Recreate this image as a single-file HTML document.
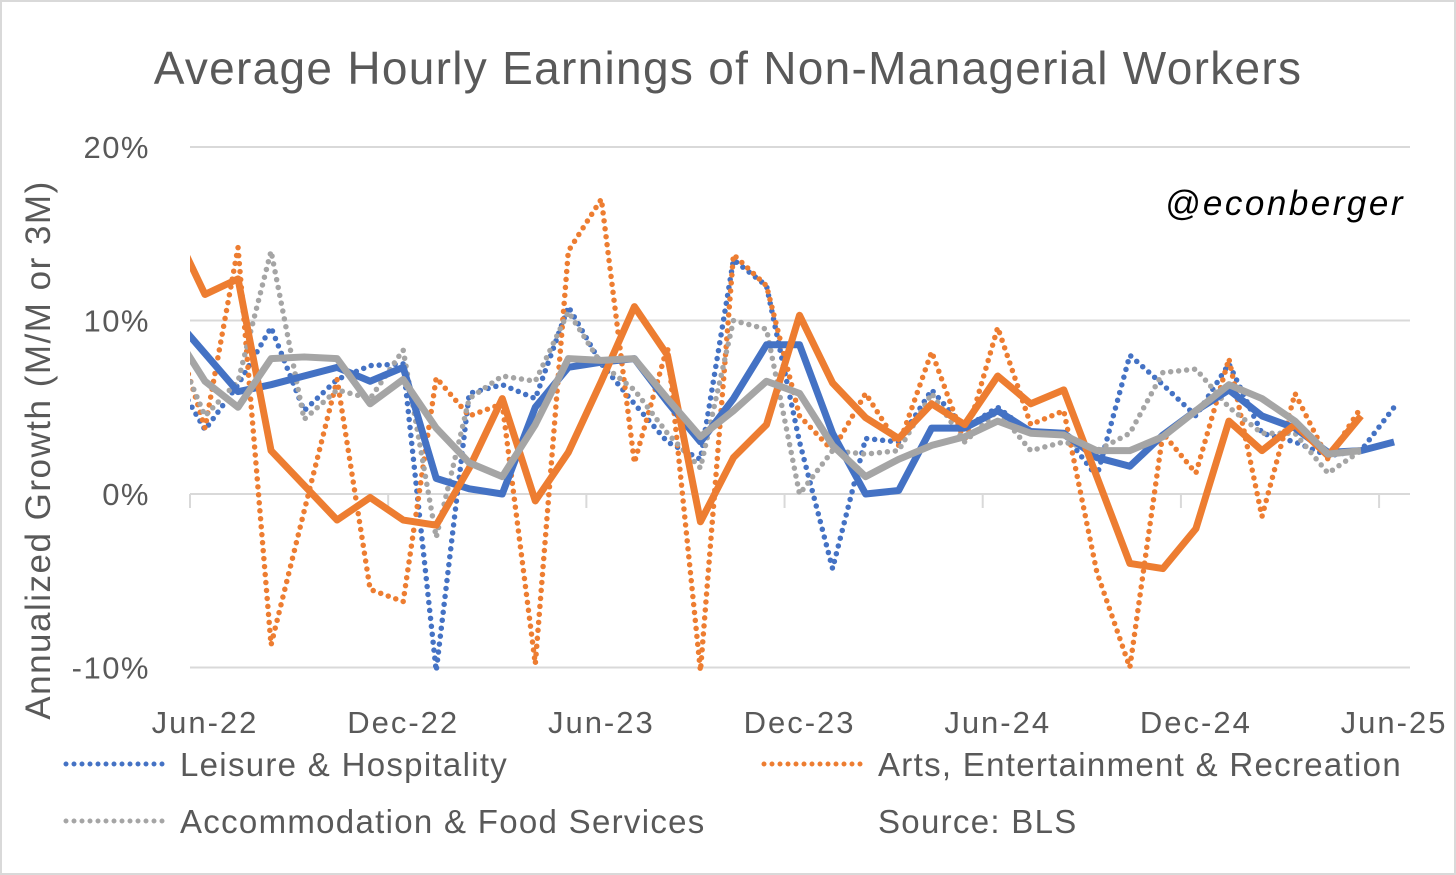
<!DOCTYPE html>
<html><head><meta charset="utf-8">
<style>
body{margin:0;background:#fff;}
#wrap{position:relative;width:1456px;height:875px;overflow:hidden;background:#fff;}
svg{position:absolute;left:0;top:0;}
text{font-family:"Liberation Sans","DejaVu Sans",sans-serif;fill:#595959;}
</style></head>
<body>
<div id="wrap">
<svg id="chart" width="1456" height="875">
<rect x="1" y="1" width="1454" height="873" fill="#fff" stroke="#d9d9d9" stroke-width="2"/>
<text x="728" y="84" text-anchor="middle" font-size="46" letter-spacing="1.3">Average Hourly Earnings of Non-Managerial Workers</text>
<text x="1405" y="215" text-anchor="end" font-size="35" font-style="italic" letter-spacing="2.5" style="fill:#000">@econberger</text>
<text transform="translate(50,450) rotate(-90)" text-anchor="middle" font-size="35" letter-spacing="1.5">Annualized Growth (M/M or 3M)</text>
<g id="grid"></g>
<g id="series"></g>
<g id="legend">
<line x1="66" y1="764" x2="168" y2="764" stroke="#4472c4" stroke-width="5" stroke-dasharray="0 8" stroke-linecap="round"/>
<text x="180" y="776" font-size="33" letter-spacing="1.3">Leisure &amp; Hospitality</text>
<line x1="764" y1="764" x2="866" y2="764" stroke="#ed7d31" stroke-width="5" stroke-dasharray="0 8" stroke-linecap="round"/>
<text x="878" y="776" font-size="33" letter-spacing="1.3">Arts, Entertainment &amp; Recreation</text>
<line x1="66" y1="821" x2="168" y2="821" stroke="#a5a5a5" stroke-width="5" stroke-dasharray="0 8" stroke-linecap="round"/>
<text x="180" y="833" font-size="33" letter-spacing="1.3">Accommodation &amp; Food Services</text>
<text x="878" y="833" font-size="33" letter-spacing="1.3">Source: BLS</text>
</g>
</svg>
</div>
<script>
// data start at May-22 (index -1, clipped), monthly
const yTicks = [20, 10, 0, -10];
const yTickLabels = ["20%", "10%", "0%", "-10%"];
const xTickLabels = ["Jun-22", "Dec-22", "Jun-23", "Dec-23", "Jun-24", "Dec-24", "Jun-25"];
const xTickMonths = [0, 6, 12, 18, 24, 30, 36];
const leisureM = [7,3.7,6.3,9.6,4.8,6.6,7.4,7.5,-10.2,5.8,6.3,5.5,10.8,7.5,5.2,3.0,2.0,13.5,12.0,3.0,-4.3,3.2,3.0,6.0,3.8,5.0,3.5,3.5,1.0,8.0,6.3,4.5,7.5,3.5,3.0,2.2,2.5,5.0];
const artsM = [10,3.8,14.2,-8.7,-1.0,6.6,-5.5,-6.2,6.7,4.5,5.2,-9.8,14,17,1.8,8.5,-10.2,13.8,12,4.5,2.5,5.8,2.8,8.2,3.0,9.6,4,4.8,-4.5,-10,3.5,1.2,7.8,-1.3,5.8,2.0,5.0];
const accomM = [9,4.5,6.5,14,4.3,6.0,5.5,8.3,-2.5,5.5,6.8,6.5,10.5,7.5,6,3.5,1.5,10.0,9.5,0,2.5,2.3,2.5,5.8,3.0,4.8,2.5,3.0,2.5,3.5,7.0,7.2,5.0,3.5,3.5,1.2,2.5];
const leisure3M = [10.3,8.1,5.9,6.3,6.8,7.3,6.5,7.3,0.9,0.3,0.0,5.0,7.3,7.6,7.8,5.3,3.0,5.5,8.6,8.6,3.5,0.0,0.2,3.8,3.8,4.8,3.6,3.5,2.1,1.6,3.4,4.8,6.0,4.5,3.8,2.4,2.5,3.0];
const arts3M = [15.5,11.5,12.4,2.5,0.5,-1.5,-0.2,-1.5,-1.8,1.5,5.5,-0.4,2.4,6.5,10.8,8.0,-1.6,2.1,4.0,10.3,6.4,4.4,3.2,5.2,4.0,6.8,5.2,6.0,1.0,-4.0,-4.3,-2.0,4.2,2.5,4.0,2.2,4.5];
const accom3M = [9.5,6.5,5.0,7.8,7.9,7.8,5.2,6.6,3.8,1.8,1.0,4.0,7.8,7.7,7.8,5.5,3.3,4.8,6.5,5.8,2.8,1.0,2.0,2.8,3.3,4.2,3.5,3.4,2.5,2.5,3.3,4.8,6.3,5.5,4.2,2.3,2.5];

const NS="http://www.w3.org/2000/svg";
const X0=190, X1=1410;
function xScale(m){return 205+m*33.03;}
function yScale(v){return 494-v*17.35;}
const svg=document.getElementById('chart');
const grid=document.getElementById('grid');
const ser=document.getElementById('series');

const defs=document.createElementNS(NS,'defs');
defs.innerHTML='<clipPath id="plotclip"><rect x="190" y="100" width="1220" height="600"/></clipPath>';
svg.insertBefore(defs,svg.firstChild);
ser.setAttribute('clip-path','url(#plotclip)');

yTicks.forEach((t,k)=>{
  const l=document.createElementNS(NS,'line');
  l.setAttribute('x1',X0);l.setAttribute('x2',X1);
  l.setAttribute('y1',yScale(t));l.setAttribute('y2',yScale(t));
  l.setAttribute('stroke','#d9d9d9');l.setAttribute('stroke-width','2');
  
  
  grid.appendChild(l);
  const tx=document.createElementNS(NS,'text');
  tx.setAttribute('x',150);tx.setAttribute('y',yScale(t)+11);
  tx.setAttribute('text-anchor','end');tx.setAttribute('font-size','31');
  tx.setAttribute('letter-spacing','1.5');
  tx.textContent=yTickLabels[k];
  
  
  grid.appendChild(tx);
});
xTickMonths.forEach((m,k)=>{
  const x=xScale(m)-15;
  const tk=document.createElementNS(NS,'line');
  tk.setAttribute('x1',x);tk.setAttribute('x2',x);
  tk.setAttribute('y1',yScale(0));tk.setAttribute('y2',yScale(0)+14);
  tk.setAttribute('stroke','#d9d9d9');tk.setAttribute('stroke-width','2');
  
  
  grid.appendChild(tk);
  const tx=document.createElementNS(NS,'text');
  tx.setAttribute('x',xScale(m));tx.setAttribute('y',733);
  tx.setAttribute('text-anchor','middle');tx.setAttribute('font-size','31');
  tx.setAttribute('letter-spacing','2');
  tx.textContent=xTickLabels[k];
  
  
  grid.appendChild(tx);
});

function drawLine(vals,color,w,dotted,name){
  const p=document.createElementNS(NS,'polyline');
  p.setAttribute('points',vals.map((v,i)=>xScale(i-1)+','+yScale(v)).join(' '));
  p.setAttribute('fill','none');p.setAttribute('stroke',color);
  p.setAttribute('stroke-width',w);p.setAttribute('stroke-linejoin','round');
  if(dotted){p.setAttribute('stroke-dasharray','0 8');p.setAttribute('stroke-linecap','round');}
  
  
  ser.appendChild(p);
}
drawLine(leisureM,'#4472c4',5.5,true,'line-leisure-monthly');
drawLine(artsM,'#ed7d31',5.5,true,'line-arts-monthly');
drawLine(accomM,'#a5a5a5',5.5,true,'line-accommodation-monthly');
drawLine(leisure3M,'#4472c4',7,false,'line-leisure-3m');
drawLine(arts3M,'#ed7d31',7,false,'line-arts-3m');
drawLine(accom3M,'#a5a5a5',7,false,'line-accommodation-3m');
</script>
</body></html>
